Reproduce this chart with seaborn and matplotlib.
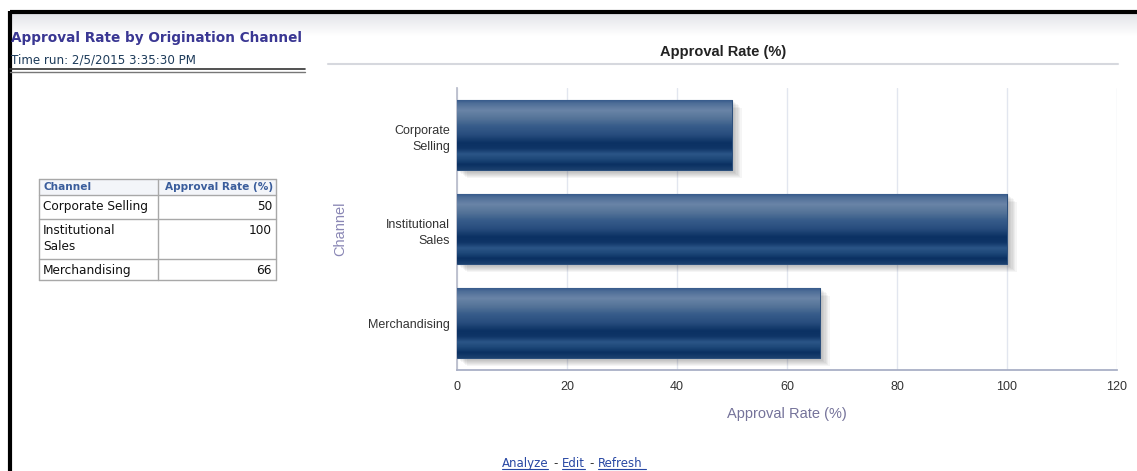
import numpy as np
import pandas as pd
import seaborn as sns
import matplotlib
matplotlib.use("Agg")
import matplotlib.pyplot as plt
from matplotlib.colors import LinearSegmentedColormap
from matplotlib.patches import Rectangle


channels = ["Corporate Selling", "Institutional Sales", "Merchandising"]
tick_labels = ["Corporate\nSelling", "Institutional\nSales", "Merchandising"]
table_labels = ["Corporate Selling", "Institutional\nSales", "Merchandising"]
approval_rate = [50, 100, 66]
x_ticks = [0, 20, 40, 60, 80, 100, 120]

TITLE = "Approval Rate by Origination Channel"
TIME_RUN = "Time run: 2/5/2015 3:35:30 PM"
CHART_TITLE = "Approval Rate (%)"

BAR_STOPS = [
    (0.00, "#34588a"), (0.05, "#4d6d97"), (0.15, "#6a84a7"), (0.27, "#547398"),
    (0.38, "#375c8a"), (0.50, "#284d7e"), (0.62, "#0b3163"), (0.70, "#0f3567"),
    (0.78, "#2b5587"), (0.86, "#1c4677"), (0.93, "#0a3062"), (1.00, "#1a3f6d"),
]
bar_cmap = LinearSegmentedColormap.from_list("bar", BAR_STOPS)

sns.set_theme(style="white")
plt.rcParams["font.family"] = ["DejaVu Sans"]

W, H = 1137, 471
fig = plt.figure(figsize=(W / 100, H / 100), dpi=100)

# page frame, header and table drawn in pixel space
bg = fig.add_axes([0, 0, 1, 1])
bg.set_xlim(0, W)
bg.set_ylim(H, 0)
bg.axis("off")

grad = np.linspace(0, 1, 60).reshape(-1, 1)
top_cmap = LinearSegmentedColormap.from_list("top", ["#e2e3e8", "#ffffff"])
bg.imshow(grad, cmap=top_cmap, extent=(11, W, 36, 13), aspect="auto", zorder=0)
bg.plot([10, W], [12, 12], color="black", lw=3, solid_capstyle="butt")
bg.plot([10, 10], [11, H], color="black", lw=3, solid_capstyle="butt")

bg.text(11, 38, TITLE, color="#3a3793", fontsize=9.8, fontweight="bold", va="center", ha="left")
bg.text(11, 60, TIME_RUN, color="#1d3b5a", fontsize=8.6, va="center", ha="left")
bg.plot([10, 305], [68.5, 68.5], color="#333333", lw=1.2)
bg.plot([10, 305], [71.5, 71.5], color="#777777", lw=1.0)

bg.text(723, 52, CHART_TITLE, fontsize=10.5, fontweight="bold", color="#222222",
        ha="center", va="center", family="Liberation Sans")
bg.plot([328, 1118], [64, 64], color="#d6d8de", lw=1.5)

# data table
col_x = [39, 158, 276]
row_y = [179, 195, 219, 259, 280]
bg.add_patch(Rectangle((col_x[0], row_y[0]), col_x[2] - col_x[0], row_y[1] - row_y[0],
                       facecolor="#f3f5f9", edgecolor="none", zorder=1))
for y in row_y:
    bg.plot([col_x[0], col_x[2]], [y, y], color="#a8a8a8", lw=1, zorder=2)
for x in col_x:
    bg.plot([x, x], [row_y[0], row_y[-1]], color="#a8a8a8", lw=1, zorder=2)
bg.text(43, 187, "Channel", color="#3a5d9c", fontsize=7.6, fontweight="bold", va="center")
bg.text(273, 187, "Approval Rate (%)", color="#3a5d9c", fontsize=7.6, fontweight="bold",
        va="center", ha="right")
for i, (lab, val) in enumerate(zip(table_labels, approval_rate)):
    y_top = row_y[i + 1] + 5
    bg.text(43, y_top, lab, fontsize=8.7, color="#111111", va="top", ha="left", linespacing=1.3)
    bg.text(272, y_top, str(val), fontsize=8.7, color="#111111", va="top", ha="right")

# footer links
link_color = "#2747a3"
for word, x, col in [("Analyze", 502, link_color), ("-", 553, "#333333"),
                     ("Edit", 562, link_color), ("-", 589, "#333333"),
                     ("Refresh", 598, link_color)]:
    bg.text(x, 467, word, color=col, fontsize=8.5, va="baseline")
for x0, x1 in [(502, 548), (562, 585), (598, 646)]:
    bg.plot([x0, x1], [469, 469], color=link_color, lw=0.8)

# bar chart
df = pd.DataFrame({"Channel": channels, "Approval Rate (%)": approval_rate})
ax = fig.add_axes([457 / W, 1 - 370 / H, 660 / W, 282 / H])
sns.barplot(data=df, y="Channel", x="Approval Rate (%)", orient="h", width=0.75,
            color="#1c4677", ax=ax, zorder=3)

for patch in ax.patches:
    x0, y0 = patch.get_x(), patch.get_y()
    w, h = patch.get_width(), patch.get_height()
    for k in range(1, 8):
        ax.add_patch(Rectangle((x0 + 0.25 * k, y0 + 0.012 * k), w, h,
                               facecolor="#000000", alpha=0.04, edgecolor="none", zorder=2))
    patch.set_edgecolor("#2c4f7c")
    patch.set_linewidth(0.8)
    im = ax.imshow(grad, cmap=bar_cmap, extent=(x0, x0 + w, y0 + h, y0),
                   aspect="auto", zorder=3.5, interpolation="bilinear")
    im.set_clip_path(patch)

ax.set_xlim(0, 120)
ax.set_ylim(2.5, -0.5)
ax.set_xticks(x_ticks)
ax.set_yticks(range(len(channels)))
ax.set_yticklabels(tick_labels, family="Liberation Sans", fontsize=9, color="#333333",
                   linespacing=1.45)
ax.set_xticklabels([str(t) for t in x_ticks], family="Liberation Sans", fontsize=9, color="#333333")
ax.tick_params(axis="both", length=0)
ax.tick_params(axis="x", pad=8)
ax.tick_params(axis="y", pad=5)
ax.grid(axis="x", color="#e2e6ef", lw=1, zorder=0)
ax.set_axisbelow(True)
for side in ["top", "right"]:
    ax.spines[side].set_visible(False)
ax.spines["left"].set_color("#b8bccb")
ax.spines["bottom"].set_color("#a6adc4")
ax.set_xlabel("Approval Rate (%)", family="Liberation Sans", fontsize=10.5, color="#75739a")
ax.set_ylabel("Channel", family="Liberation Sans", fontsize=10.5, color="#8a87b5")
ax.xaxis.set_label_coords(0.5, -0.13)
ax.yaxis.set_label_coords(-0.166, 0.5)

fig.savefig("out.png", dpi=100)
